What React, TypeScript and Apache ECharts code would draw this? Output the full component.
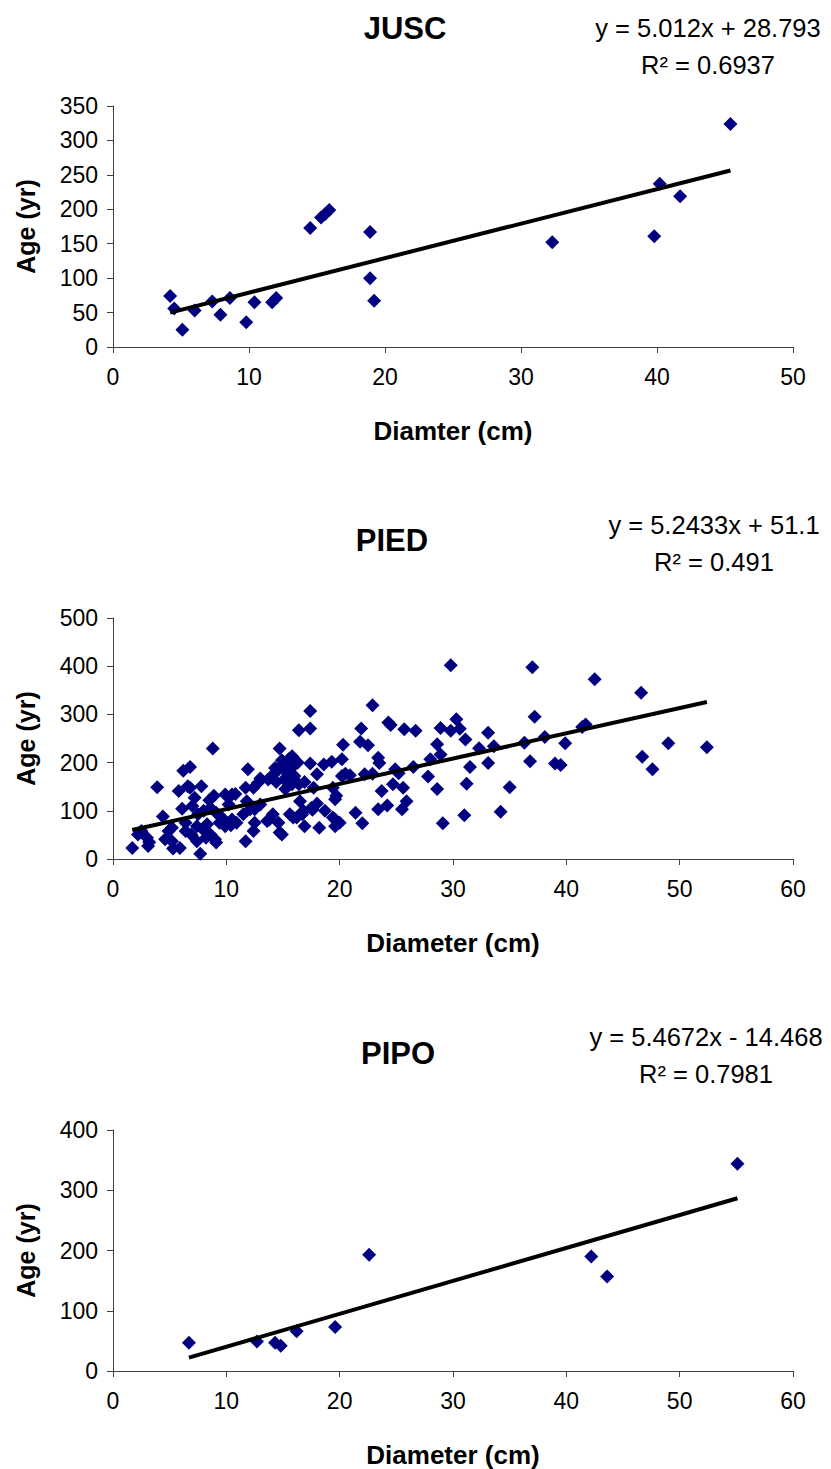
import React, { useEffect, useRef } from "react";
import * as echarts from "echarts";

// ---- Data ----
const chartTitles = ["JUSC", "PIED", "PIPO"];
const xAxisNames = ["Diamter (cm)", "Diameter (cm)", "Diameter (cm)"];
const yAxisName = "Age (yr)";
const xMaxes = [50, 60, 60];
const yMaxes = [350, 500, 400];
const yIntervals = [50, 100, 100];
const fitSlopes = [5.012, 5.2433, 5.4672];
const fitIntercepts = [28.793, 51.1, -14.468];
const equationLabels = ["y = 5.012x + 28.793", "y = 5.2433x + 51.1", "y = 5.4672x - 14.468"];
const r2Labels = ["R² = 0.6937", "R² = 0.491", "R² = 0.7981"];

const juscData: [number, number][] = [
  [4.2, 74], [4.5, 56], [5.1, 25], [6.0, 53], [7.3, 66], [7.9, 47], [8.6, 71],
  [9.8, 36], [10.4, 65], [11.7, 65], [12.0, 71], [14.5, 173], [15.3, 188],
  [15.6, 193], [15.9, 199], [18.9, 167], [18.9, 100], [19.2, 67], [32.3, 152],
  [39.8, 161], [40.2, 237], [41.7, 219], [45.4, 324],
];

const piedData: [number, number][] = [
  [1.7, 23], [2.2, 51], [2.5, 58], [3.0, 44], [3.1, 27], [3.2, 35], [3.9, 149],
  [4.4, 88], [4.6, 41], [4.9, 58], [5.2, 65], [5.2, 37], [5.3, 22], [5.9, 23],
  [5.8, 141], [6.1, 104], [6.2, 183], [6.4, 75], [6.4, 58], [6.6, 151], [6.8, 191],
  [6.8, 148], [6.9, 51], [7.0, 110], [7.2, 127], [7.4, 68], [7.4, 37], [7.5, 93],
  [7.7, 11], [7.8, 151], [7.9, 62], [8.0, 100],
  [8.2, 44], [8.3, 72], [8.5, 122], [8.6, 106], [8.6, 51], [8.8, 229], [8.9, 131],
  [9.0, 41], [9.1, 96], [9.1, 34], [9.4, 75], [9.6, 86], [9.9, 134], [9.9, 68],
  [10.2, 113], [10.5, 134], [10.5, 82], [10.8, 135], [10.9, 75], [10.4, 70],
  [11.5, 93], [11.7, 148], [11.7, 37], [11.8, 120], [11.9, 186], [12.1, 103],
  [12.4, 58], [12.5, 75], [12.5, 103], [12.4, 148], [12.8, 158], [13.0, 167],
  [13.0, 113], [13.6, 79], [13.7, 165], [13.8, 82], [14.0, 172], [14.1, 93],
  [14.3, 189], [14.6, 185], [14.6, 75], [14.7, 229], [14.7, 55], [14.9, 51],
  [15.0, 196], [15.2, 145], [15.3, 190], [15.5, 207], [15.6, 93], [15.8, 213],
  [15.8, 190], [15.8, 155], [15.9, 86], [15.9, 210], [16.2, 86], [16.3, 200],
  [16.4, 267], [16.4, 155], [16.5, 120], [16.7, 93], [16.8, 100], [16.9, 160],
  [16.9, 68], [14.9, 205], [15.4, 178], [16.0, 172], [15.1, 165], [14.4, 160],
  [17.4, 307], [17.4, 271], [17.4, 198], [17.5, 106], [17.6, 102], [17.7, 148],
  [18.0, 176], [18.0, 115], [18.2, 65], [18.6, 196], [18.7, 100], [19.3, 202],
  [19.4, 148], [19.4, 86], [19.6, 124], [19.6, 82], [19.6, 68], [19.7, 131],
  [20.2, 207], [20.2, 172], [20.3, 237], [20.0, 75],
  [20.5, 177], [20.9, 174], [21.4, 96], [21.8, 243], [21.9, 271], [22.0, 74],
  [22.2, 176], [22.5, 236], [22.9, 319], [22.9, 177], [23.4, 210], [23.5, 199],
  [23.4, 103], [23.7, 141], [24.2, 111], [24.3, 283], [24.5, 278],
  [24.7, 155], [24.9, 186], [25.2, 178], [25.6, 148], [25.9, 120], [25.5, 103],
  [25.7, 269], [26.5, 191], [26.7, 266], [27.8, 171], [28.0, 207], [28.6, 238],
  [28.6, 145], [28.9, 217], [28.9, 272], [29.1, 74], [29.8, 402], [29.8, 266],
  [30.3, 290], [30.6, 270],
  [31.1, 248], [31.2, 156], [31.5, 191], [31.0, 91], [32.3, 230], [33.1, 262],
  [33.1, 199], [33.6, 234], [34.2, 98], [35.0, 149], [36.3, 241], [36.8, 203],
  [37.0, 398], [37.2, 295], [38.1, 253], [39.0, 198], [39.5, 195], [39.9, 240],
  [41.4, 274], [41.7, 279], [42.5, 373], [46.6, 345], [46.7, 212], [47.6, 186],
  [49.0, 240], [52.4, 232],
];

const pipoData: [number, number][] = [
  [6.7, 47], [12.7, 49], [14.3, 47], [14.8, 42], [16.2, 66], [19.6, 73],
  [22.6, 193], [42.2, 190], [43.6, 157], [55.1, 344],
];

const allData = [juscData, piedData, pipoData];

// ---- Layout ----
const gridTops = [106, 618, 1130];
const gridHeight = 241;
const titleYs = [28, 540, 1053];
const titleXs = [405, 392, 398];
const eqXs = [708, 714, 706];
const eqYs = [28, 525, 1037];

const FONT = "'Liberation Sans', Arial, sans-serif";
const MARKER = "#000080";
const AXIS = "#404040";

function fitLine(i: number): [number, number][] {
  const xs = allData[i].map((d) => d[0]);
  const x0 = Math.min(...xs);
  const x1 = Math.max(...xs);
  return [
    [x0, fitSlopes[i] * x0 + fitIntercepts[i]],
    [x1, fitSlopes[i] * x1 + fitIntercepts[i]],
  ];
}

export default function App() {
  const ref = useRef<HTMLDivElement>(null);
  useEffect(() => {
    if (!ref.current) return;
    const chart = echarts.init(ref.current, undefined, { renderer: "svg" });
    const grids = gridTops.map((top) => ({
      left: 113,
      width: 680,
      top,
      height: gridHeight,
      containLabel: false,
    }));
    const axisLine = { show: true, lineStyle: { color: AXIS, width: 1 } };
    const axisTick = { show: true, length: 6, inside: false, lineStyle: { color: AXIS } };
    const xAxes = xMaxes.map((max, i) => ({
      type: "value",
      gridIndex: i,
      min: 0,
      max,
      interval: 10,
      axisLine,
      axisTick,
      splitLine: { show: false },
      axisLabel: { fontSize: 23, color: "#000", fontFamily: FONT, margin: 18 },
      name: xAxisNames[i],
      nameLocation: "middle",
      nameGap: 71,
      nameTextStyle: { fontSize: 26, fontWeight: "bold", color: "#000", fontFamily: FONT },
    }));
    const yAxes = yMaxes.map((max, i) => ({
      type: "value",
      gridIndex: i,
      min: 0,
      max,
      interval: yIntervals[i],
      axisLine,
      axisTick,
      splitLine: { show: false },
      axisLabel: { fontSize: 23, color: "#000", fontFamily: FONT, margin: 15 },
      name: yAxisName,
      nameLocation: "middle",
      nameGap: 75,
      nameTextStyle: { fontSize: 25, fontWeight: "bold", color: "#000", fontFamily: FONT },
    }));
    const series: any[] = [];
    allData.forEach((data, i) => {
      series.push({
        type: "scatter",
        xAxisIndex: i,
        yAxisIndex: i,
        data,
        symbol: "diamond",
        symbolSize: 14,
        itemStyle: { color: MARKER, opacity: 1 },
        z: 2,
      });
      series.push({
        type: "line",
        xAxisIndex: i,
        yAxisIndex: i,
        data: fitLine(i),
        symbol: "none",
        lineStyle: { color: "#000", width: 4 },
        z: 3,
      });
    });
    const graphic: any[] = [];
    chartTitles.forEach((t, i) => {
      graphic.push({
        type: "text",
        x: titleXs[i],
        y: titleYs[i],
        style: {
          text: t,
          fontSize: 31,
          fontWeight: "bold",
          fontFamily: FONT,
          fill: "#000",
          align: "center",
          verticalAlign: "middle",
        },
      });
      graphic.push({
        type: "text",
        x: eqXs[i],
        y: eqYs[i],
        style: {
          text: equationLabels[i],
          fontSize: 25.5,
          fontFamily: FONT,
          fill: "#000",
          align: "center",
          verticalAlign: "middle",
        },
      });
      graphic.push({
        type: "text",
        x: eqXs[i],
        y: eqYs[i] + 37,
        style: {
          text: r2Labels[i],
          fontSize: 25.5,
          fontFamily: FONT,
          fill: "#000",
          align: "center",
          verticalAlign: "middle",
        },
      });
    });
    chart.setOption({
      animation: false,
      backgroundColor: "#fff",
      grid: grids,
      xAxis: xAxes,
      yAxis: yAxes,
      series,
      graphic,
    });
    return () => chart.dispose();
  }, []);
  return (
    <div
      ref={ref}
      style={{ position: "absolute", left: 0, top: 0, width: 831, height: 1469 }}
    />
  );
}
